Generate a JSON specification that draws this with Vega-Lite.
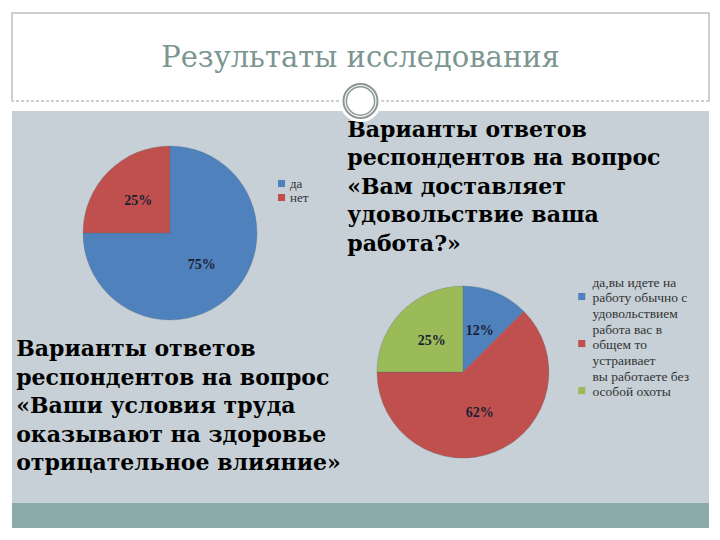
{
  "$schema": "https://vega.github.io/schema/vega-lite/v6.json",
  "background": "white",
  "bounds": "flush",
  "padding": {"left": 9, "top": 12, "right": 11, "bottom": 12},
  "datasets": {
    "slide": [{"title": "Результаты исследования"}],
    "pie1": [
      {"chart": "q1", "answer": "да", "value": 75, "k": 1, "label": "75%"},
      {"chart": "q1", "answer": "нет", "value": 25, "k": 2, "label": "25%"}
    ],
    "pie2": [
      {"chart": "q2", "answer": "да,вы идете на\nработу обычно с\nудовольствием", "value": 12.5, "k": 1, "label": "12%"},
      {"chart": "q2", "answer": "работа вас в\nобщем то\nустраивает", "value": 62.5, "k": 2, "label": "62%"},
      {"chart": "q2", "answer": "вы работаете без\nособой охоты", "value": 25, "k": 3, "label": "25%"}
    ],
    "notes": [
      {"block": "q1", "text": "Варианты ответов\nреспондентов на вопрос\n«Ваши условия труда\nоказывают на здоровье\nотрицательное влияние»"},
      {"block": "q2", "text": "Варианты ответов\nреспондентов на вопрос\n\u00a0«Вам доставляет\nудовольствие ваша\nработа?»"}
    ]
  },
  "spacing": 10,
  "vconcat": [
    {
      "width": 697,
      "height": 88,
      "view": {"fill": "white", "stroke": "#b9c0c0", "strokeWidth": 1.5},
      "data": {"name": "slide"},
      "layer": [
        {
          "mark": {"type": "text", "font": "DejaVu Serif", "fontSize": 29, "color": "#7b9591", "baseline": "middle", "align": "center", "dy": 1},
          "encoding": {"text": {"field": "title"}}
        },
        {
          "mark": {"type": "rule", "color": "white", "strokeWidth": 3},
          "encoding": {"y": {"field": "title", "type": "nominal", "scale": {"type": "point", "padding": 0, "align": 1}, "axis": null}}
        },
        {
          "mark": {"type": "rule", "color": "#9a9f9f", "strokeWidth": 1, "strokeDash": [3, 2]},
          "encoding": {"y": {"field": "title", "type": "nominal", "scale": {"type": "point", "padding": 0, "align": 1}, "axis": null}}
        }
      ]
    },
    {
      "spacing": 0,
      "bounds": "flush",
      "vconcat": [
        {
          "width": 697,
          "height": 392,
          "view": {"fill": "#c6d0d6", "stroke": null},
          "layer": [
            {
              "data": {"name": "pie1"},
              "mark": {"type": "arc", "radius": 87, "stroke": "#5a6a7a", "strokeWidth": 0.3},
              "encoding": {
                "theta": {"field": "value", "type": "quantitative", "stack": true},
                "order": {"field": "k", "type": "quantitative"},
                "color": {"field": "answer", "type": "nominal",
                  "scale": {"domain": ["да", "нет"], "range": ["#4f81bd", "#c0504d"]},
                  "legend": {"title": null, "orient": "none", "legendX": 263, "legendY": 66, "padding": 0,
                    "symbolType": "square", "symbolSize": 50, "symbolStrokeWidth": 0,
                    "labelFont": "Liberation Serif", "labelFontSize": 13, "labelColor": "#333333", "rowPadding": 0, "labelOffset": 2}},
                "x": {"field": "chart", "type": "nominal", "scale": {"type": "point", "padding": 0, "align": 0.2267}, "axis": null},
                "y": {"field": "chart", "type": "nominal", "scale": {"type": "point", "padding": 0, "align": 0.3112}, "axis": null}
              }
            },
            {
              "data": {"name": "pie1"},
              "mark": {"type": "text", "radius": 45, "font": "Liberation Serif", "fontWeight": "bold", "fontSize": 14, "color": "#1c2033"},
              "encoding": {
                "theta": {"field": "value", "type": "quantitative", "stack": true},
                "order": {"field": "k", "type": "quantitative"},
                "text": {"field": "label"},
                "x": {"field": "chart", "type": "nominal", "scale": {"type": "point", "padding": 0, "align": 0.2267}, "axis": null},
                "y": {"field": "chart", "type": "nominal", "scale": {"type": "point", "padding": 0, "align": 0.3112}, "axis": null}
              }
            },
            {
              "data": {"name": "pie2"},
              "mark": {"type": "arc", "radius": 86, "stroke": "#5a6a7a", "strokeWidth": 0.3},
              "encoding": {
                "theta": {"field": "value", "type": "quantitative", "stack": true},
                "order": {"field": "k", "type": "quantitative"},
                "color": {"field": "answer", "type": "nominal",
                  "scale": {"domain": ["да,вы идете на\nработу обычно с\nудовольствием", "работа вас в\nобщем то\nустраивает", "вы работаете без\nособой охоты"], "range": ["#4f81bd", "#c0504d", "#9bbb59"]},
                  "legend": {"title": null, "orient": "none", "legendX": 563, "legendY": 165, "padding": 0,
                    "symbolType": "M-1,2.9H1V4.9H-1Z", "symbolSize": 50, "symbolStrokeWidth": 0,
                    "labelFont": "Liberation Serif", "labelFontSize": 13.5, "labelColor": "#333333", "labelLimit": 300, "rowPadding": 1, "labelOffset": 4,
                    "labelExpr": "split(datum.label, '\\n')"}},
                "x": {"field": "chart", "type": "nominal", "scale": {"type": "point", "padding": 0, "align": 0.647}, "axis": null},
                "y": {"field": "chart", "type": "nominal", "scale": {"type": "point", "padding": 0, "align": 0.666}, "axis": null}
              }
            },
            {
              "data": {"name": "pie2"},
              "mark": {"type": "text", "radius": 44, "font": "Liberation Serif", "fontWeight": "bold", "fontSize": 14, "color": "#1c2033"},
              "encoding": {
                "theta": {"field": "value", "type": "quantitative", "stack": true},
                "order": {"field": "k", "type": "quantitative"},
                "text": {"field": "label"},
                "x": {"field": "chart", "type": "nominal", "scale": {"type": "point", "padding": 0, "align": 0.647}, "axis": null},
                "y": {"field": "chart", "type": "nominal", "scale": {"type": "point", "padding": 0, "align": 0.666}, "axis": null}
              }
            },
            {
              "data": {"name": "notes"},
              "transform": [{"filter": "datum.block == 'q1'"}],
              "mark": {"type": "text", "align": "left", "baseline": "top", "lineBreak": "\n", "lineHeight": 28.5, "font": "DejaVu Serif", "fontWeight": "bold", "fontSize": 22, "color": "#000000"},
              "encoding": {
                "text": {"field": "text"},
                "x": {"field": "block", "type": "nominal", "scale": {"type": "point", "padding": 0, "align": 0.006}, "axis": null},
                "y": {"field": "block", "type": "nominal", "scale": {"type": "point", "padding": 0, "align": 0.582}, "axis": null}
              }
            },
            {
              "data": {"name": "notes"},
              "transform": [{"filter": "datum.block == 'q2'"}],
              "mark": {"type": "text", "align": "left", "baseline": "top", "lineBreak": "\n", "lineHeight": 28.5, "font": "DejaVu Serif", "fontWeight": "bold", "fontSize": 22, "color": "#000000"},
              "encoding": {
                "text": {"field": "text"},
                "x": {"field": "block", "type": "nominal", "scale": {"type": "point", "padding": 0, "align": 0.481}, "axis": null},
                "y": {"field": "block", "type": "nominal", "scale": {"type": "point", "padding": 0, "align": 0.022}, "axis": null}
              }
            },
            {
              "data": {"name": "slide"},
              "mark": {"type": "point", "shape": "circle", "filled": true, "color": "white", "opacity": 1, "size": 1764, "yOffset": -10},
              "encoding": {
                "x": {"field": "title", "type": "nominal", "scale": {"type": "point", "padding": 0, "align": 0.5}, "axis": null},
                "y": {"field": "title", "type": "nominal", "scale": {"type": "point", "padding": 0, "align": 0}, "axis": null}
              }
            },
            {
              "data": {"name": "slide"},
              "mark": {"type": "point", "shape": "circle", "filled": false, "stroke": "#8c9696", "strokeWidth": 2, "opacity": 1, "size": 1156, "yOffset": -10},
              "encoding": {
                "x": {"field": "title", "type": "nominal", "scale": {"type": "point", "padding": 0, "align": 0.5}, "axis": null},
                "y": {"field": "title", "type": "nominal", "scale": {"type": "point", "padding": 0, "align": 0}, "axis": null}
              }
            },
            {
              "data": {"name": "slide"},
              "mark": {"type": "point", "shape": "circle", "filled": false, "stroke": "#8c9696", "strokeWidth": 1.5, "opacity": 1, "size": 800, "yOffset": -10},
              "encoding": {
                "x": {"field": "title", "type": "nominal", "scale": {"type": "point", "padding": 0, "align": 0.5}, "axis": null},
                "y": {"field": "title", "type": "nominal", "scale": {"type": "point", "padding": 0, "align": 0}, "axis": null}
              }
            }
          ],
          "resolve": {"scale": {"x": "independent", "y": "independent", "theta": "independent", "color": "independent"}, "legend": {"color": "independent"}}
        },
        {
          "width": 697,
          "height": 25,
          "view": {"fill": "#8aabaa", "stroke": null},
          "data": {"name": "slide"},
          "mark": {"type": "text", "opacity": 0},
          "encoding": {"text": {"value": ""}}
        }
      ]
    }
  ],
  "config": {"view": {"stroke": null}}
}
